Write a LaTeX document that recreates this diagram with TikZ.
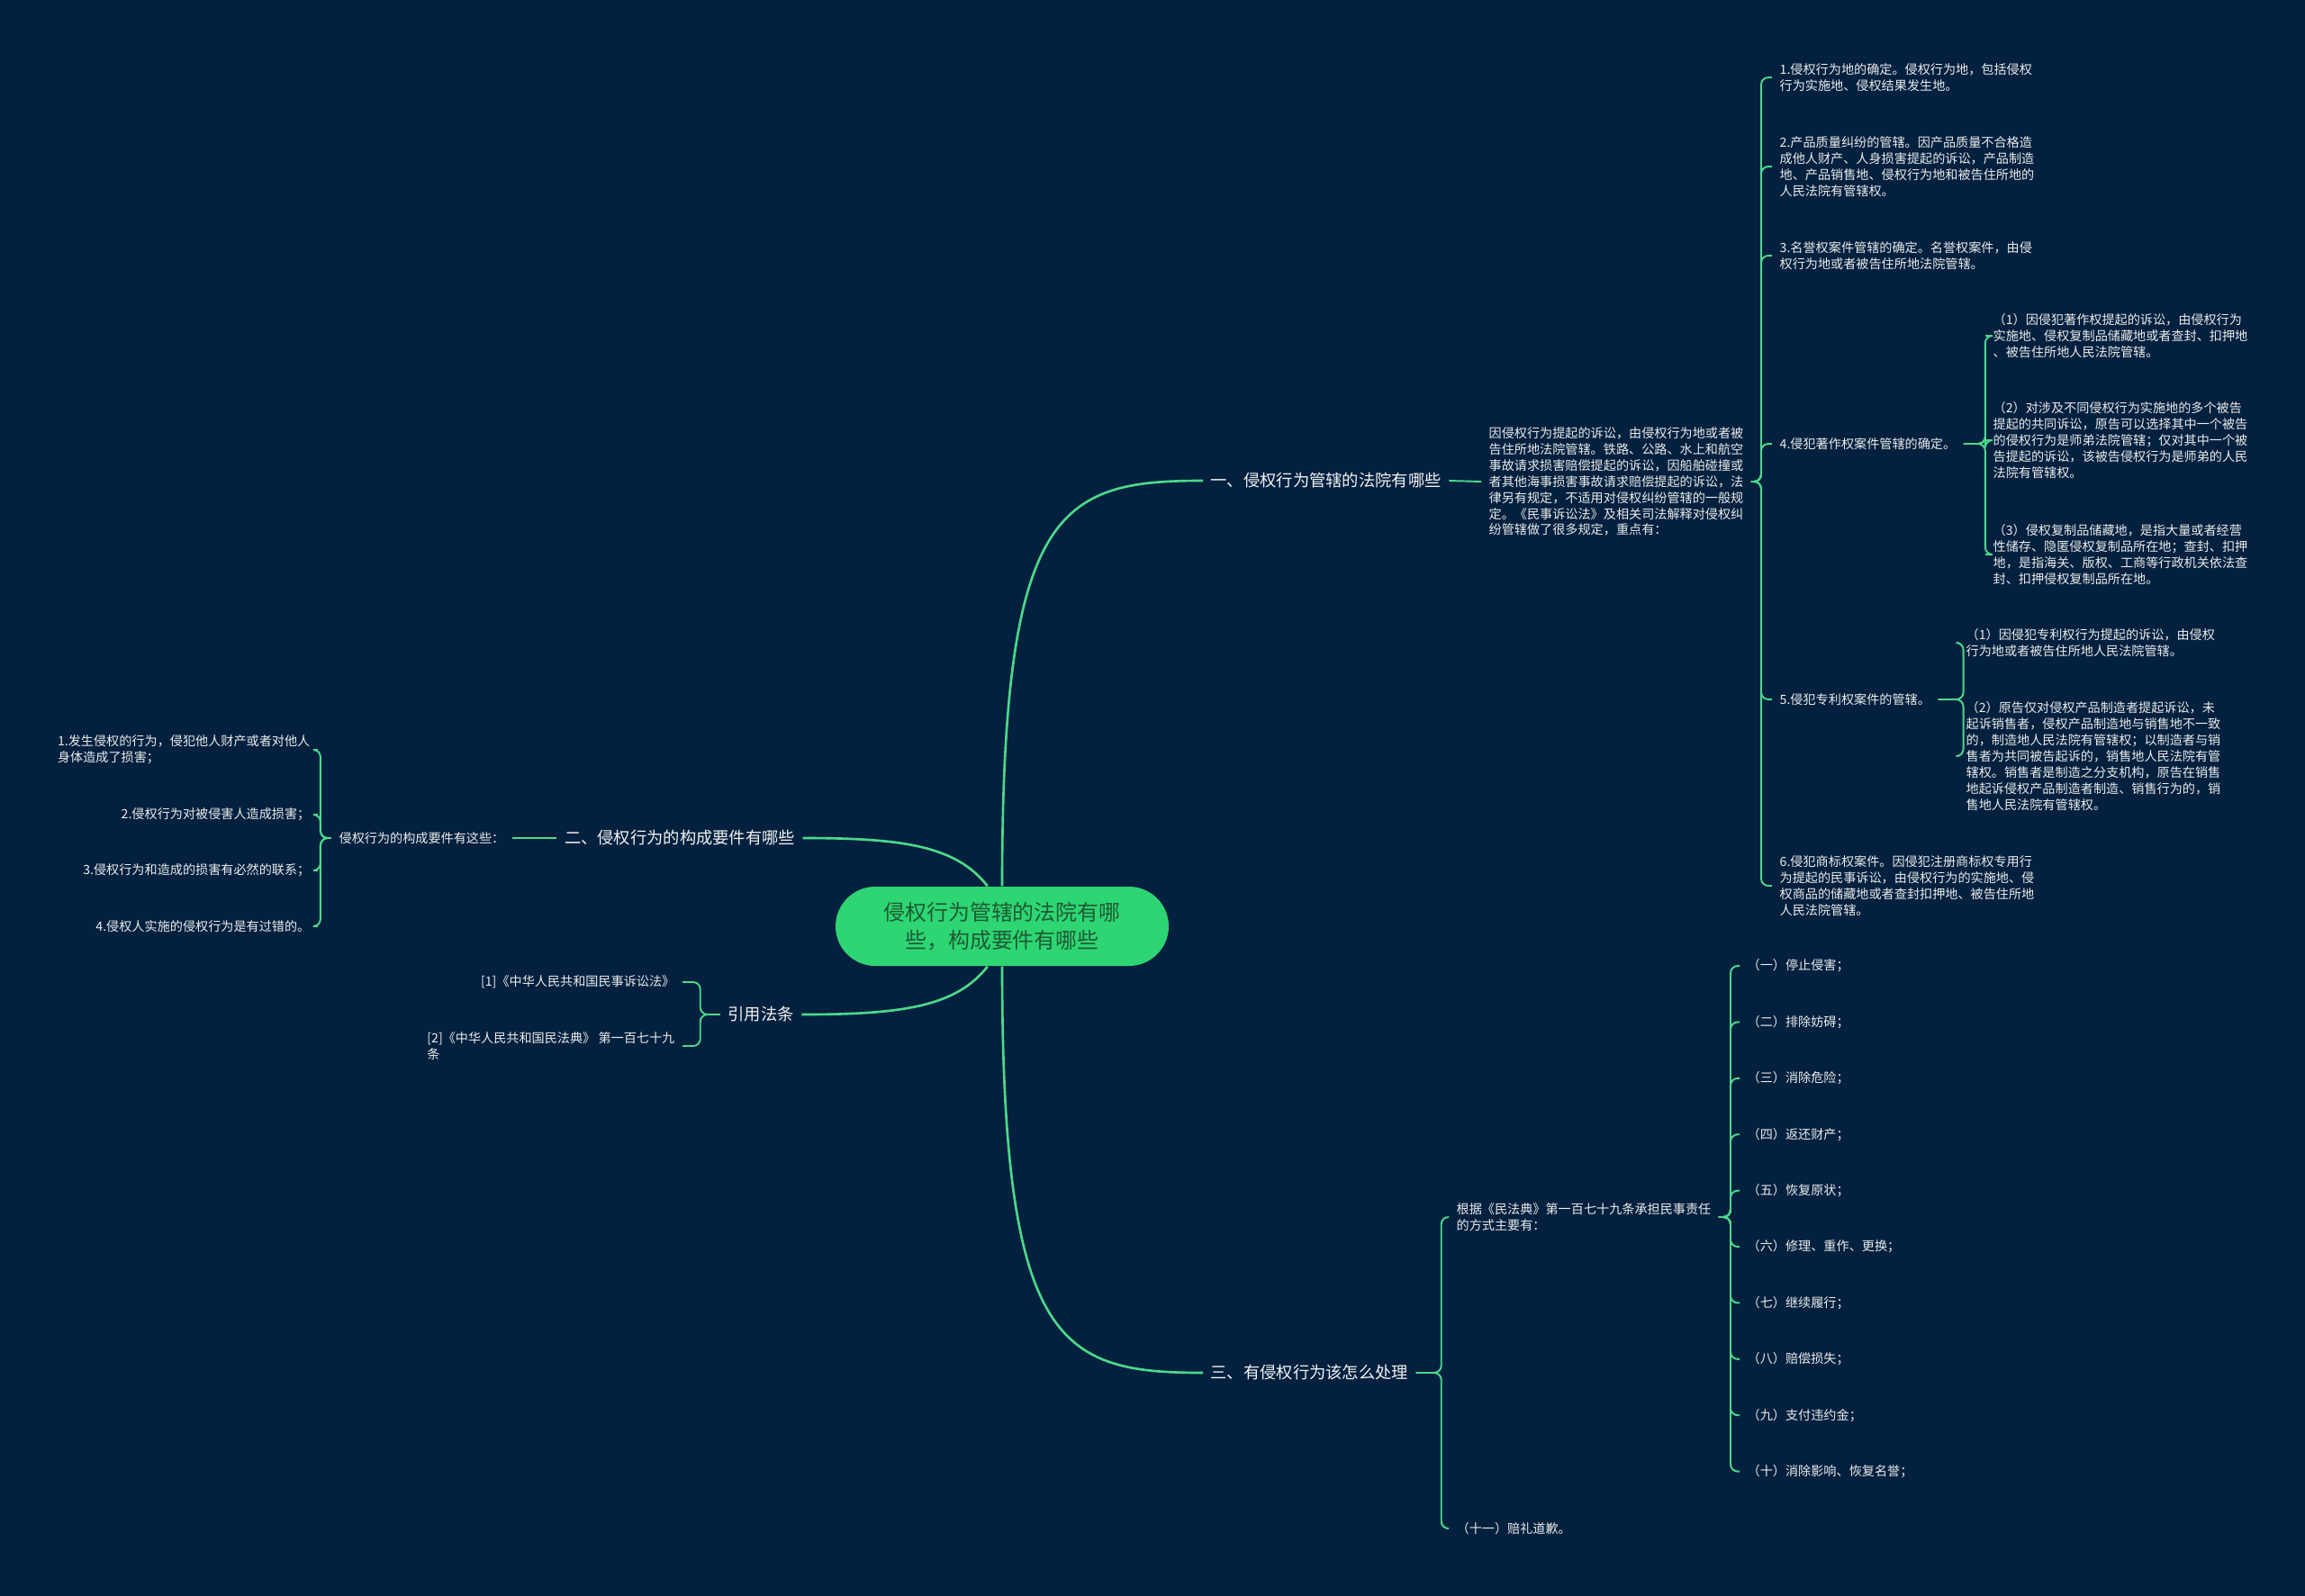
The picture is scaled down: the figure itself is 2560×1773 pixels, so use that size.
\documentclass[tikz,border=0pt]{standalone}
\usepackage{fontspec}
\setmainfont{Noto Sans CJK SC}
\usepackage{xcolor}
\usetikzlibrary{positioning}

\definecolor{bgnavy}{HTML}{03213F}
\definecolor{linegreen}{HTML}{4CD98A}
\definecolor{pillgreen}{HTML}{2ED573}
\definecolor{pilltext}{HTML}{1E5B33}

\tikzset{
  leaf/.style={inner xsep=0.8mm,inner ysep=0.3mm,text=white!92!black,align=left,
    font=\fontsize{4.02pt}{5.1pt}\selectfont},
  branch/.style={inner xsep=0.8mm,inner ysep=0.5mm,text=white!95!black,
    font=\fontsize{5.2pt}{6.4pt}\selectfont},
  link/.style={draw=linegreen,line width=0.55pt,rounded corners=0.8mm},
  trunk/.style={draw=linegreen,line width=0.75pt}
}

\begin{document}
\begin{tikzpicture}[x=0.1mm,y=-0.1mm]
\fill[bgnavy] (0,0) rectangle (2560,1773);
\useasboundingbox (0,0) rectangle (2560,1773);

% centre
\node[fill=pillgreen,rounded corners=4.4mm,minimum width=37mm,minimum height=8.8mm,
  align=center,text=pilltext,font=\fontsize{6.8pt}{9pt}\selectfont] (root) at (1113,1029)
  {侵权行为管辖的法院有哪\\些，构成要件有哪些};

% main branches
\node[branch,anchor=west] (court) at (1336,534) {一、侵权行为管辖的法院有哪些};
\node[branch] (elem) at (755,931) {二、侵权行为的构成要件有哪些};
\node[branch] (law) at (845,1127) {引用法条};
\node[branch,anchor=west] (deal) at (1336,1525) {三、有侵权行为该怎么处理};

\draw[trunk] (root.north) .. controls +(0,-420) and +(-160,0) .. (court.west);
\draw[trunk] (root.south) .. controls +(0,420) and +(-160,0) .. (deal.west);
\draw[trunk] (root.110) .. controls +(-35,-45) and +(110,0) .. (elem.east);
\draw[trunk] (root.250) .. controls +(-35,45) and +(110,0) .. (law.east);

% branch one
\node[leaf,anchor=west] (courtintro) at (1645,535) {因侵权行为提起的诉讼，由侵权行为地或者被\\告住所地法院管辖。铁路、公路、水上和航空\\事故请求损害赔偿提起的诉讼，因船舶碰撞或\\者其他海事损害事故请求赔偿提起的诉讼，法\\律另有规定，不适用对侵权纠纷管辖的一般规\\定。《民事诉讼法》及相关司法解释对侵权纠\\纷管辖做了很多规定，重点有：};
\draw[link] (court.east) -- (courtintro.west);

\node[leaf,anchor=west] (place) at (1968,86) {1.侵权行为地的确定。侵权行为地，包括侵权\\行为实施地、侵权结果发生地。};
\node[leaf,anchor=west] (quality) at (1968,185) {2.产品质量纠纷的管辖。因产品质量不合格造\\成他人财产、人身损害提起的诉讼，产品制造\\地、产品销售地、侵权行为地和被告住所地的\\人民法院有管辖权。};
\node[leaf,anchor=west] (honor) at (1968,284) {3.名誉权案件管辖的确定。名誉权案件，由侵\\权行为地或者被告住所地法院管辖。};
\node[leaf,anchor=west] (copy) at (1968,493) {4.侵犯著作权案件管辖的确定。};
\node[leaf,anchor=west] (patent) at (1968,777) {5.侵犯专利权案件的管辖。};
\node[leaf,anchor=west] (mark) at (1968,984) {6.侵犯商标权案件。因侵犯注册商标权专用行\\为提起的民事诉讼，由侵权行为的实施地、侵\\权商品的储藏地或者查封扣押地、被告住所地\\人民法院管辖。};
\foreach \n in {place,quality,honor,copy,patent,mark}
  \draw[link] (courtintro.east) -- ++(11,0) |- (\n.west);

\node[leaf,anchor=west] (copya) at (2205,373) {（1）因侵犯著作权提起的诉讼，由侵权行为\\实施地、侵权复制品储藏地或者查封、扣押地\\、被告住所地人民法院管辖。};
\node[leaf,anchor=west] (copyb) at (2205,489) {（2）对涉及不同侵权行为实施地的多个被告\\提起的共同诉讼，原告可以选择其中一个被告\\的侵权行为是师弟法院管辖；仅对其中一个被\\告提起的诉讼，该被告侵权行为是师弟的人民\\法院有管辖权。};
\node[leaf,anchor=west] (copyc) at (2205,616) {（3）侵权复制品储藏地，是指大量或者经营\\性储存、隐匿侵权复制品所在地；查封、扣押\\地，是指海关、版权、工商等行政机关依法查\\封、扣押侵权复制品所在地。};
\foreach \n in {copya,copyb,copyc}
  \draw[link] (copy.east) -- ++(24,0) |- (\n.west);

\node[leaf,anchor=west] (patenta) at (2175,714) {（1）因侵犯专利权行为提起的诉讼，由侵权\\行为地或者被告住所地人民法院管辖。};
\node[leaf,anchor=west] (patentb) at (2175,840) {（2）原告仅对侵权产品制造者提起诉讼，未\\起诉销售者，侵权产品制造地与销售地不一致\\的，制造地人民法院有管辖权；以制造者与销\\售者为共同被告起诉的，销售地人民法院有管\\辖权。销售者是制造之分支机构，原告在销售\\地起诉侵权产品制造者制造、销售行为的，销\\售地人民法院有管辖权。};
\foreach \n in {patenta,patentb}
  \draw[link] (patent.east) -- ++(28,0) |- (\n.west);

% branch two
\node[leaf,anchor=east] (elemintro) at (569,931) {侵权行为的构成要件有这些：};
\draw[link] (elem.west) -- (elemintro.east);
\node[leaf,anchor=east] (harm) at (353,833) {1.发生侵权的行为，侵犯他人财产或者对他人\\身体造成了损害；};
\node[leaf,anchor=east] (damage) at (353,905) {2.侵权行为对被侵害人造成损害；};
\node[leaf,anchor=east] (cause) at (353,967) {3.侵权行为和造成的损害有必然的联系；};
\node[leaf,anchor=east] (fault) at (353,1029) {4.侵权人实施的侵权行为是有过错的。};
\foreach \n in {harm,damage,cause,fault}
  \draw[link] (elemintro.west) -- ++(-12,0) |- (\n.east);

% cited law
\node[leaf,anchor=east] (lawa) at (758,1091) {[1]《中华人民共和国民事诉讼法》};
\node[leaf,anchor=east] (lawb) at (758,1162) {[2]《中华人民共和国民法典》 第一百七十九\\条};
\foreach \n in {lawa,lawb}
  \draw[link] (law.west) -- ++(-22,0) |- (\n.east);

% branch three
\node[leaf,anchor=west] (civil) at (1609,1352) {根据《民法典》第一百七十九条承担民事责任\\的方式主要有：};
\node[leaf,anchor=west] (apology) at (1609,1698) {（十一）赔礼道歉。};
\foreach \n in {civil,apology}
  \draw[link] (deal.east) -- ++(28,0) |- (\n.west);

\foreach \t [count=\i] in {（一）停止侵害；,（二）排除妨碍；,（三）消除危险；,（四）返还财产；,
  （五）恢复原状；,（六）修理、重作、更换；,（七）继续履行；,（八）赔偿损失；,
  （九）支付违约金；,（十）消除影响、恢复名誉；}{
  \node[leaf,anchor=west] (way\i) at (1932,{1073+(\i-1)*62.4}) {\t};
  \draw[link] (civil.east) -- ++(13,0) |- (way\i.west);
}
\end{tikzpicture}
\end{document}
